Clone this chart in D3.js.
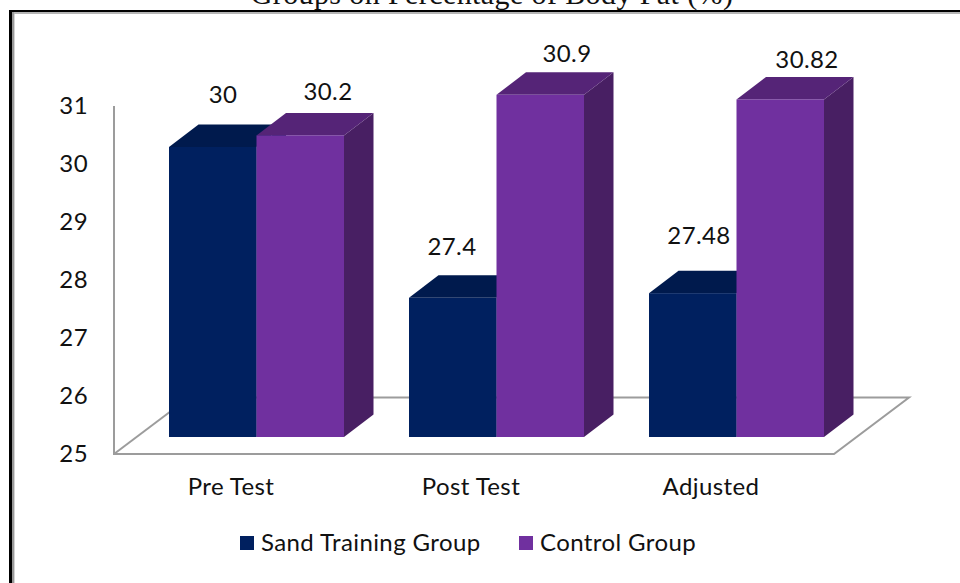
<!DOCTYPE html>
<html>
<head>
<meta charset="utf-8">
<script src="https://cdn.jsdelivr.net/npm/d3@7"></script>
<style>
  html, body { margin: 0; padding: 0; background: #fff; }
  svg { display: block; }
  text { font-family: Lato, "Open Sans", sans-serif; fill: #111; letter-spacing: 0.4px; }
  .title { font-family: "Liberation Serif", serif; font-size: 30px; letter-spacing: 0.4px; }
</style>
</head>
<body>
<div id="chart"></div>
<script>
let categories = ["Pre Test", "Post Test", "Adjusted"];
let seriesNames = ["Sand Training Group", "Control Group"];
let sandValues = [30, 27.4, 27.48];
let controlValues = [30.2, 30.9, 30.82];
let sandLabels = ["30", "27.4", "27.48"];
let controlLabels = ["30.2", "30.9", "30.82"];
let yTicks = [25, 26, 27, 28, 29, 30, 31];

let width = 960, height = 583;
let svg = d3.select("#chart").append("svg")
    .attr("width", width)
    .attr("height", height);

// frame round the picture, title sits cut off on top of it
svg.append("text").attr("class", "title")
    .attr("x", 492).attr("y", 4)
    .attr("text-anchor", "middle")
    .text("Groups on Percentage of Body Fat (%)");
svg.append("rect").attr("x", 12).attr("y", 12).attr("width", 960).attr("height", 2).attr("fill", "#b5b5b5");
svg.append("rect").attr("x", 12).attr("y", 12).attr("width", 2).attr("height", 580).attr("fill", "#999");
svg.append("rect").attr("x", 14).attr("y", 14).attr("width", 1).attr("height", 580).attr("fill", "#d5d5d5");
svg.append("rect").attr("x", 9).attr("y", 10).attr("width", 960).attr("height", 2).attr("fill", "#000");
svg.append("rect").attr("x", 9).attr("y", 10).attr("width", 3).attr("height", 580).attr("fill", "#000");

let y = d3.scaleLinear().domain([25, 31]).range([454, 106]);
let x0 = d3.scaleBand().domain(categories).range([129, 849]);
let barW = 87.5;
let x1 = d3.scaleBand().domain(seriesNames).range([0, barW * 2]);

// depth offsets of the fake 3d
let floorDx = 75, floorDy = 56.5;
let barLift = 17;
let depthDx = 29.5, depthDy = 22.5;
let floorRight = 834;

let lineColor = "#9c9c9c";
svg.append("path")
    .attr("d", d3.line()([[114, y(31)], [114, y(25)], [floorRight, y(25)],
        [floorRight + floorDx, y(25) - floorDy], [114 + floorDx, y(25) - floorDy]]))
    .attr("fill", "none").attr("stroke", lineColor).attr("stroke-width", 2);
svg.append("line")
    .attr("x1", 114).attr("y1", y(25))
    .attr("x2", 114 + floorDx).attr("y2", y(25) - floorDy)
    .attr("stroke", lineColor).attr("stroke-width", 2);

let yAxis = d3.axisLeft(y).tickValues(yTicks).tickSize(0).tickPadding(26).tickFormat(d3.format("d"));
let yG = svg.append("g").attr("transform", "translate(114,0)").call(yAxis);
yG.select(".domain").remove();
yG.selectAll("text").attr("font-size", 24).attr("font-family", "Lato").attr("fill", "#111");

let colors = {
    "Sand Training Group": { front: "#00205f", top: "#001a4d", side: "#001a4d" },
    "Control Group": { front: "#70309f", top: "#552477", side: "#481f63" }
};

// labels were dragged by hand in the original, so each has its own offset
let sandLabelDx = [54, 43, 50], sandLabelDy = [44, 43, 49];
let controlLabelDx = [71.5, 70.5, 70.5], controlLabelDy = [35, 33, 31];

function drawBars(name, values, labels, labelDx, labelDy) {
    let c = colors[name];
    let g = svg.append("g").selectAll("g")
        .data(values)
        .enter().append("g");
    let bx = (d, i) => x0(categories[i]) + 40 + x1(name);
    let by = d => y(d) - barLift;
    let base = y(25) - barLift;

    g.append("path")
        .attr("fill", c.side)
        .attr("d", (d, i) => d3.line()([[bx(d, i) + barW, by(d)],
            [bx(d, i) + barW + depthDx, by(d) - depthDy],
            [bx(d, i) + barW + depthDx, base - depthDy],
            [bx(d, i) + barW, base]]));
    g.append("path")
        .attr("fill", c.top)
        .attr("d", (d, i) => d3.line()([[bx(d, i), by(d)],
            [bx(d, i) + depthDx, by(d) - depthDy],
            [bx(d, i) + barW + depthDx, by(d) - depthDy],
            [bx(d, i) + barW, by(d)]]));
    g.append("rect")
        .attr("x", bx)
        .attr("y", by)
        .attr("width", barW)
        .attr("height", d => base - by(d))
        .attr("fill", c.front);
    g.append("text")
        .attr("x", (d, i) => bx(d, i) + labelDx[i])
        .attr("y", (d, i) => by(d) - labelDy[i])
        .attr("text-anchor", "middle")
        .attr("font-size", 24)
        .text((d, i) => labels[i]);
}
drawBars(seriesNames[0], sandValues, sandLabels, sandLabelDx, sandLabelDy);
drawBars(seriesNames[1], controlValues, controlLabels, controlLabelDx, controlLabelDy);

// category labels
svg.selectAll(".cat")
    .data(categories)
    .enter().append("text")
    .attr("class", "cat")
    .attr("x", d => x0(d) + 102)
    .attr("y", 495)
    .attr("text-anchor", "middle")
    .attr("font-size", 24)
    .text(d => d);

// legend
let legendX = [240, 519];
let legend = svg.selectAll(".legend")
    .data(seriesNames)
    .enter().append("g")
    .attr("class", "legend")
    .attr("transform", (d, i) => "translate(" + legendX[i] + ",536)");
legend.append("rect")
    .attr("width", 14).attr("height", 14)
    .attr("fill", d => colors[d].front);
legend.append("text")
    .attr("x", 21).attr("y", 15)
    .attr("font-size", 24)
    .text(d => d);
</script>
</body>
</html>
